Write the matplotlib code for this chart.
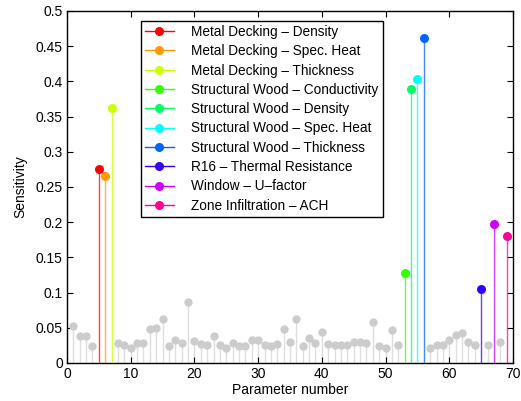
import numpy as np
import matplotlib
matplotlib.use("Agg")
import matplotlib.pyplot as plt
from matplotlib.lines import Line2D
from matplotlib.legend_handler import HandlerLine2D
from matplotlib.ticker import FormatStrFormatter

# * Data
# sensitivity of every parameter (1..69)
params = np.arange(1, 70)
sens = np.array([
    0.053, 0.038, 0.039, 0.024, 0.275, 0.266, 0.362, 0.028, 0.026, 0.021,
    0.028, 0.029, 0.048, 0.050, 0.062, 0.024, 0.033, 0.029, 0.086, 0.031,
    0.027, 0.026, 0.039, 0.026, 0.022, 0.028, 0.024, 0.024, 0.032, 0.033,
    0.025, 0.024, 0.027, 0.048, 0.030, 0.062, 0.024, 0.035, 0.028, 0.044,
    0.027, 0.025, 0.025, 0.025, 0.030, 0.030, 0.029, 0.058, 0.024, 0.021,
    0.047, 0.025, 0.128, 0.389, 0.404, 0.462, 0.022, 0.025, 0.026, 0.032,
    0.040, 0.043, 0.030, 0.026, 0.105, 0.025, 0.197, 0.030, 0.180,
])

# highlighted parameters and their legend names
top_params = [5, 6, 7, 53, 54, 55, 56, 65, 67, 69]
top_names = [
    "Metal Decking \u2013 Density",
    "Metal Decking \u2013 Spec. Heat",
    "Metal Decking \u2013 Thickness",
    "Structural Wood \u2013 Conductivity",
    "Structural Wood \u2013 Density",
    "Structural Wood \u2013 Spec. Heat",
    "Structural Wood \u2013 Thickness",
    "R16 \u2013 Thermal Resistance",
    "Window \u2013 U\u2013factor",
    "Zone Infiltration \u2013 ACH",
]

# hsv(10) like matlab
top_colors = [matplotlib.colors.hsv_to_rgb((h / 10, 1, 1)) for h in range(10)]


class MarkerAtEnd(HandlerLine2D):
    "legend handle: line with the marker on its right end"
    def get_xdata(self, legend, xdescent, ydescent, width, height, fontsize):
        return [-xdescent, -xdescent + width], [-xdescent + width]


plt.rcParams['font.family'] = ['Liberation Sans', 'DejaVu Sans']

fig = plt.figure(figsize=(5.21, 4.01), dpi=100)
ax = fig.add_axes([67 / 521, 1 - 363 / 401, 446 / 521, 352 / 401])

# ** gray stems
rest = ~np.isin(params, top_params)
ax.vlines(params[rest], 0, sens[rest], color='#dddddd', lw=1.0, zorder=1)
ax.plot(params[rest], sens[rest], 'o', color='#cccccc', ms=6, mec='none', zorder=2)

# ** colored stems
handles = []
for p, name, c in zip(top_params, top_names, top_colors):
    v = sens[p - 1]
    ax.vlines(p, 0, v, color=c, lw=1.0, alpha=0.75, zorder=3)
    ax.plot([p], [v], 'o', color=c, ms=6.5, mec='none', zorder=4)
    handles.append(Line2D([], [], color=c, lw=1.0, marker='o', ms=6.5, mec='none'))

ax.set_xlim(0, 70)
ax.set_ylim(0, 0.5)
ax.set_xticks(np.arange(0, 71, 10))
ax.set_yticks(np.arange(0, 0.501, 0.05))
ax.yaxis.set_major_formatter(FormatStrFormatter('%g'))
ax.tick_params(direction='in', length=4, width=0.8, top=True, right=True,
               labelsize=10, pad=3)
for s in ax.spines.values():
    s.set_linewidth(1.0)

ax.set_xlabel("Parameter number", fontsize=10, labelpad=1)
ax.set_ylabel("Sensitivity", fontsize=10, labelpad=6)

leg = ax.legend(handles, top_names, loc='upper left', bbox_to_anchor=(0.166, 0.972),
                borderaxespad=0, fontsize=9.8, handlelength=2.1, handletextpad=1.3,
                labelspacing=0.39, borderpad=0.3, fancybox=False, framealpha=1,
                edgecolor='black', handler_map={Line2D: MarkerAtEnd()})
leg.get_frame().set_linewidth(1.0)

fig.savefig("out.png", dpi=100)
